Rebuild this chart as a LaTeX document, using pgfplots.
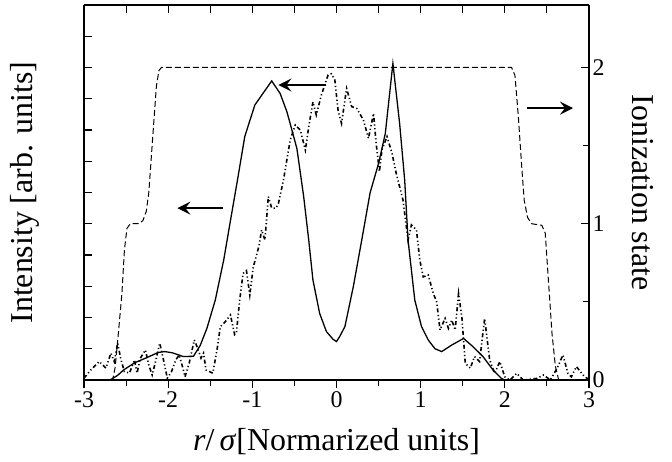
\documentclass[border=0pt]{standalone}
\usepackage{fontspec}
\setmainfont{Liberation Serif}
\usepackage{pgfplots}
\pgfplotsset{compat=1.18}
\usetikzlibrary{arrows.meta}

\begin{document}
\begin{tikzpicture}
\pgfplotsset{
  every axis/.append style={
    width=505bp, height=375bp, scale only axis,
    xmin=-3, xmax=3,
    axis line style={line width=1.2pt},
    every tick/.style={black, line width=1.1pt},
    major tick length=8bp, minor tick length=6bp,
    tick label style={font=\fontsize{24}{28}\selectfont},
    label style={font=\fontsize{32}{38}\selectfont},
  }
}

% intensity, left axis
\begin{axis}[
  axis x line*=bottom, axis y line*=left,
  ymin=0, ymax=12,
  xtick={-3,-2,-1,0,1,2,3},
  xticklabels={-3,-2,-1,0,1,2,3},
  minor xtick={-2.5,-1.5,-0.5,0.5,1.5,2.5},
  xtick align=outside,
  ytick={0,1,2,3,4,5,6,7,8,9,10,11,12},
  yticklabels={},
  ytick align=inside,
  xlabel={\textit{r}/\,\textit{σ}[Normarized units]},
  ylabel={Intensity [arb. units]},
  xlabel style={at={(axis description cs:0.5,-0.165)}, anchor=center},
  ylabel style={at={(axis description cs:-0.117,0.5)}, anchor=center},
]
\coordinate (sw) at (rel axis cs:0,0);

% solid
\addplot[black, line width=1.3pt] coordinates {
(-3,0) (-2.69,0) (-2.60,0.15) (-2.53,0.32) (-2.40,0.55) (-2.25,0.72)
(-2.12,0.88) (-2.04,0.91) (-1.95,0.87) (-1.82,0.75) (-1.70,0.76)
(-1.62,1.1) (-1.54,1.65) (-1.44,2.56) (-1.34,3.84) (-1.26,5.1)
(-1.17,6.5) (-1.09,7.79) (-0.97,8.8) (-0.77,9.57) (-0.67,9.17)
(-0.59,8.59) (-0.55,8.2) (-0.47,7.4) (-0.39,5.87) (-0.33,4.48)
(-0.28,3.2) (-0.20,2.13) (-0.12,1.55) (-0.04,1.3) (0.0,1.23)
(0.04,1.4) (0.10,1.71) (0.20,2.99) (0.30,4.48) (0.40,6.0)
(0.50,6.93) (0.58,7.89) (0.67,10.13) (0.75,8.21) (0.81,6.4)
(0.85,4.48) (0.93,2.56) (1.01,1.71) (1.09,1.28) (1.17,1.0)
(1.25,0.91) (1.37,1.12) (1.51,1.33) (1.62,1.07) (1.74,0.75)
(1.86,0.32) (1.96,0.05) (2.0,0)
};

% dash-dot-dot
\addplot[black, line width=1.6pt,
  dash pattern=on 4bp off 2.5bp on 1.2bp off 2.5bp on 1.2bp off 2.5bp] coordinates {
(-3.00,0.06) (-2.92,0.32) (-2.82,0.59) (-2.74,0.38) (-2.68,0.86)
(-2.64,0.59) (-2.60,1.18) (-2.56,0.64) (-2.52,0.27) (-2.46,0.22)
(-2.40,0.64) (-2.37,0.22) (-2.33,0.70) (-2.27,0.96) (-2.23,0.48)
(-2.19,0.16) (-2.15,0.59) (-2.10,1.18) (-2.06,0.70) (-2.01,0.06)
(-1.96,0.27) (-1.91,0.64) (-1.87,0.80) (-1.83,0.43) (-1.80,0.10)
(-1.75,0.54) (-1.69,1.28) (-1.65,1.02) (-1.61,0.70) (-1.58,0.86)
(-1.55,0.32) (-1.47,0.22) (-1.42,0.96) (-1.38,1.71) (-1.32,1.87)
(-1.26,2.08) (-1.21,1.45) (-1.19,1.50) (-1.15,2.56) (-1.11,3.41)
(-1.07,3.50) (-1.03,2.72) (-0.99,3.6) (-0.92,4.3) (-0.89,4.8)
(-0.85,4.48) (-0.81,5.87) (-0.77,5.5) (-0.72,5.5) (-0.69,5.65)
(-0.63,6.4) (-0.55,7.68) (-0.49,8.16) (-0.43,8.0) (-0.37,7.36)
(-0.33,8.1) (-0.28,8.9) (-0.24,8.48) (-0.18,9.12) (-0.10,9.76)
(-0.06,9.8) (-0.02,9.6) (0.02,8.6) (0.06,8.21) (0.12,9.33)
(0.18,8.75) (0.24,8.69) (0.32,8.32) (0.38,7.73) (0.44,8.53)
(0.47,7.6) (0.51,6.67) (0.54,7.36) (0.60,7.79) (0.66,7.25)
(0.71,6.61) (0.79,5.76) (0.85,4.48) (0.89,4.96) (0.95,4.8)
(0.99,3.84) (1.03,3.3) (1.09,3.36) (1.15,2.77) (1.19,2.5)
(1.23,1.6) (1.29,1.97) (1.33,1.65) (1.37,1.92) (1.41,1.6)
(1.45,2.77) (1.49,2.0) (1.53,0.53) (1.59,0.38) (1.64,0.75)
(1.70,0.59) (1.76,1.97) (1.82,0.64) (1.88,0.21) (1.94,0.59)
(2.00,0.10) (2.06,0.0) (2.14,0.21) (2.22,0.0) (2.38,0.05)
(2.46,0.16) (2.54,0.0) (2.62,0.37) (2.69,0.80) (2.75,0.21)
(2.79,0.1) (2.85,0.43) (2.93,0.16) (3.0,0.0)
};

% arrows
\draw[line width=1.9pt, -{Stealth[length=13bp, width=13bp, inset=5bp]}]
  (axis cs:-0.12,9.44) -- (axis cs:-0.69,9.44);
\draw[line width=1.9pt, -{Stealth[length=13bp, width=13bp, inset=5bp]}]
  (axis cs:-1.35,5.5) -- (axis cs:-1.89,5.5);
\draw[line width=1.9pt, -{Stealth[length=13bp, width=13bp, inset=5bp]}]
  (axis cs:2.26,8.7) -- (axis cs:2.81,8.7);
\end{axis}

% ionization state, right axis
\begin{axis}[
  axis x line*=top, axis y line*=right,
  ymin=0, ymax=2.4,
  xtick={-3,-2.5,-2,-1.5,-1,-0.5,0,0.5,1,1.5,2,2.5,3},
  xticklabels={},
  xtick align=inside,
  ytick={0,1,2},
  yticklabels={0,1,2},
  minor ytick={0.5,1.5},
  ytick align=inside,
  ylabel={Ionization state},
  ylabel style={rotate=180, at={(axis description cs:1.107,0.5)}, anchor=center},
]
\addplot[black, line width=1pt, dash pattern=on 6bp off 3bp] coordinates {
(-3,0) (-2.66,0) (-2.63,0.08) (-2.60,0.25) (-2.55,0.55) (-2.52,0.83)
(-2.49,0.97) (-2.45,1.0) (-2.35,1.0) (-2.30,1.02) (-2.26,1.08)
(-2.23,1.2) (-2.18,1.58) (-2.14,1.88) (-2.11,1.98) (-2.08,2.0)
(2.08,2.0) (2.12,1.95) (2.16,1.69) (2.20,1.37) (2.23,1.15)
(2.27,1.04) (2.32,1.0) (2.44,0.99) (2.48,0.94) (2.52,0.62)
(2.56,0.3) (2.60,0.09) (2.64,0.0) (3,0)
};
\end{axis}

\pgfresetboundingbox
\path[use as bounding box] (sw) ++(-84bp,-82bp) rectangle ++(672bp,462bp);
\end{tikzpicture}
\end{document}
